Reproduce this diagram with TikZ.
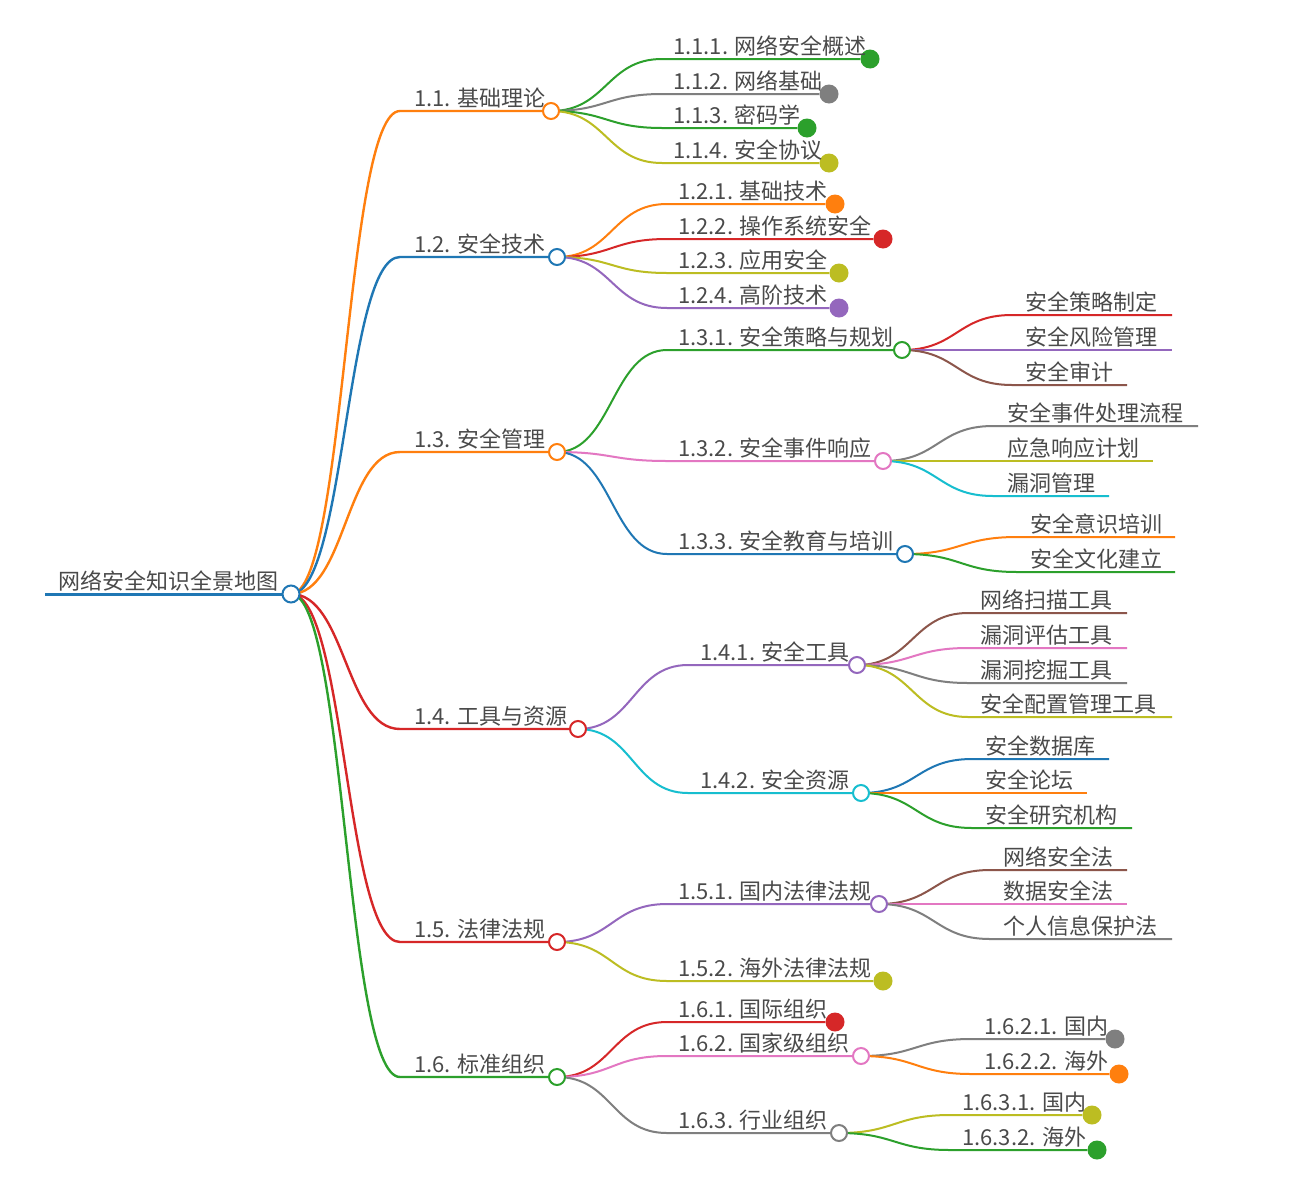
\documentclass[tikz,border=0pt]{standalone}
\usepackage{fontspec}
\setmainfont{Noto Sans CJK SC}
\usetikzlibrary{calc,backgrounds}
\definecolor{cblue}{HTML}{1F77B4}
\definecolor{corange}{HTML}{FF7F0E}
\definecolor{cgreen}{HTML}{2CA02C}
\definecolor{cred}{HTML}{D62728}
\definecolor{cpurple}{HTML}{9467BD}
\definecolor{cbrown}{HTML}{8C564B}
\definecolor{cpink}{HTML}{E377C2}
\definecolor{cgray}{HTML}{7F7F7F}
\definecolor{colive}{HTML}{BCBD22}
\definecolor{ccyan}{HTML}{17BECF}
\definecolor{textgray}{HTML}{4A4A4A}
\tikzset{
  edge/.style={line width=2pt},
  edgeone/.style={line width=2.4pt},
  hollow/.style={circle, draw, line width=2pt, fill=white, minimum size=16pt, inner sep=0pt},
  dot/.style={circle, fill, minimum size=19pt, inner sep=0pt},
  lbl/.style={anchor=base west, inner sep=0pt, text=textgray, font=\fontsize{22}{24}\selectfont},
}
\newcommand\mlink[5][edge]{\draw[#1,#2] let \p1=(#3.center), \p2=(#4) in (\p1) .. controls ({(\x1+\x2)/2},\y1) and ({(\x1+\x2)/2},\y2) .. (\p2) -- (#5);}
\begin{document}
\begin{tikzpicture}[x=1pt,y=-1pt]
\useasboundingbox (0,0) rectangle (1308,1186);
% root
\node[hollow, draw=cblue, minimum size=17pt] (root) at (291,594) {};
\coordinate (rootstart) at (45,594);
\node[lbl] (troot) at (58,589) {网络安全知识全景地图};
% level 1
\node[hollow, draw=corange] (n11) at (551,111) {};
\node[hollow, draw=cblue] (n12) at (557,257) {};
\node[hollow, draw=corange] (n13) at (557,452) {};
\node[hollow, draw=cred] (n14) at (578,729) {};
\node[hollow, draw=cred] (n15) at (557,942) {};
\node[hollow, draw=cgreen] (n16) at (557,1077) {};
\foreach \n/\y in {11/111,12/257,13/452,14/729,15/942,16/1077} \coordinate (h\n) at (400,\y);
\node[lbl] (t11) at (414,106) {1.1. 基础理论};
\node[lbl] (t12) at (414,252) {1.2. 安全技术};
\node[lbl] (t13) at (414,447) {1.3. 安全管理};
\node[lbl] (t14) at (414,724) {1.4. 工具与资源};
\node[lbl] (t15) at (414,937) {1.5. 法律法规};
\node[lbl] (t16) at (414,1072) {1.6. 标准组织};
% 1.1 children
\node[dot, fill=cgreen] (n111) at (870,59) {};
\node[dot, fill=cgray] (n112) at (829,94) {};
\node[dot, fill=cgreen] (n113) at (807,128) {};
\node[dot, fill=colive] (n114) at (829,163) {};
\foreach \n/\y in {111/59,112/94,113/128,114/163} \coordinate (h\n) at (662,\y);
\node[lbl] (t111) at (673,54) {1.1.1. 网络安全概述};
\node[lbl] (t112) at (673,89) {1.1.2. 网络基础};
\node[lbl] (t113) at (673,123) {1.1.3. 密码学};
\node[lbl] (t114) at (673,158) {1.1.4. 安全协议};
% 1.2 children
\node[dot, fill=corange] (n121) at (835,204) {};
\node[dot, fill=cred] (n122) at (883,239) {};
\node[dot, fill=colive] (n123) at (839,273) {};
\node[dot, fill=cpurple] (n124) at (839,308) {};
\foreach \n/\y in {121/204,122/239,123/273,124/308} \coordinate (h\n) at (667,\y);
\node[lbl] (t121) at (678,199) {1.2.1. 基础技术};
\node[lbl] (t122) at (678,234) {1.2.2. 操作系统安全};
\node[lbl] (t123) at (678,268) {1.2.3. 应用安全};
\node[lbl] (t124) at (678,303) {1.2.4. 高阶技术};
% 1.3 children
\node[hollow, draw=cgreen] (n131) at (902,350) {};
\node[hollow, draw=cpink] (n132) at (883,461) {};
\node[hollow, draw=cblue] (n133) at (905,554) {};
\foreach \n/\y in {131/350,132/461,133/554} \coordinate (h\n) at (667,\y);
\node[lbl] (t131) at (678,345) {1.3.1. 安全策略与规划};
\node[lbl] (t132) at (678,456) {1.3.2. 安全事件响应};
\node[lbl] (t133) at (678,549) {1.3.3. 安全教育与培训};
% 1.3.1 children
\coordinate (e1311) at (1172,315); \coordinate (h1311) at (1012,315);
\coordinate (e1312) at (1172,350); \coordinate (h1312) at (1012,350);
\coordinate (e1313) at (1127,385); \coordinate (h1313) at (1012,385);
\node[lbl] (t1311) at (1025,310) {安全策略制定};
\node[lbl] (t1312) at (1025,345) {安全风险管理};
\node[lbl] (t1313) at (1025,380) {安全审计};
% 1.3.2 children
\coordinate (e1321) at (1198,426); \coordinate (h1321) at (993,426);
\coordinate (e1322) at (1153,461); \coordinate (h1322) at (993,461);
\coordinate (e1323) at (1109,496); \coordinate (h1323) at (993,496);
\node[lbl] (t1321) at (1007,421) {安全事件处理流程};
\node[lbl] (t1322) at (1007,456) {应急响应计划};
\node[lbl] (t1323) at (1007,491) {漏洞管理};
% 1.3.3 children
\coordinate (e1331) at (1175,537); \coordinate (h1331) at (1017,537);
\coordinate (e1332) at (1175,572); \coordinate (h1332) at (1017,572);
\node[lbl] (t1331) at (1030,532) {安全意识培训};
\node[lbl] (t1332) at (1030,567) {安全文化建立};
% 1.4 children
\node[hollow, draw=cpurple] (n141) at (857,665) {};
\node[hollow, draw=ccyan] (n142) at (861,793) {};
\coordinate (h141) at (688,665); \coordinate (h142) at (688,793);
\node[lbl] (t141) at (700,660) {1.4.1. 安全工具};
\node[lbl] (t142) at (700,788) {1.4.2. 安全资源};
% 1.4.1 children
\coordinate (e1411) at (1127,613); \coordinate (h1411) at (968,613);
\coordinate (e1412) at (1127,648); \coordinate (h1412) at (968,648);
\coordinate (e1413) at (1127,683); \coordinate (h1413) at (968,683);
\coordinate (e1414) at (1172,717); \coordinate (h1414) at (968,717);
\node[lbl] (t1411) at (980,608) {网络扫描工具};
\node[lbl] (t1412) at (980,643) {漏洞评估工具};
\node[lbl] (t1413) at (980,678) {漏洞挖掘工具};
\node[lbl] (t1414) at (980,712) {安全配置管理工具};
% 1.4.2 children
\coordinate (e1421) at (1109,759); \coordinate (h1421) at (972,759);
\coordinate (e1422) at (1087,793); \coordinate (h1422) at (972,793);
\coordinate (e1423) at (1132,828); \coordinate (h1423) at (972,828);
\node[lbl] (t1421) at (985,754) {安全数据库};
\node[lbl] (t1422) at (985,788) {安全论坛};
\node[lbl] (t1423) at (985,823) {安全研究机构};
% 1.5 children
\node[hollow, draw=cpurple] (n151) at (879,904) {};
\node[dot, fill=colive] (n152) at (883,981) {};
\coordinate (h151) at (667,904); \coordinate (h152) at (667,981);
\node[lbl] (t151) at (678,899) {1.5.1. 国内法律法规};
\node[lbl] (t152) at (678,976) {1.5.2. 海外法律法规};
% 1.5.1 children
\coordinate (e1511) at (1127,870); \coordinate (h1511) at (990,870);
\coordinate (e1512) at (1127,904); \coordinate (h1512) at (990,904);
\coordinate (e1513) at (1172,939); \coordinate (h1513) at (990,939);
\node[lbl] (t1511) at (1003,865) {网络安全法};
\node[lbl] (t1512) at (1003,899) {数据安全法};
\node[lbl] (t1513) at (1003,934) {个人信息保护法};
% 1.6 children
\node[dot, fill=cred] (n161) at (835,1022) {};
\node[hollow, draw=cpink] (n162) at (861,1056) {};
\node[hollow, draw=cgray] (n163) at (839,1133) {};
\coordinate (h161) at (667,1022); \coordinate (h162) at (667,1056); \coordinate (h163) at (667,1133);
\node[lbl] (t161) at (678,1017) {1.6.1. 国际组织};
\node[lbl] (t162) at (678,1051) {1.6.2. 国家级组织};
\node[lbl] (t163) at (678,1128) {1.6.3. 行业组织};
% 1.6.2 children
\node[dot, fill=cgray] (n1621) at (1115,1039) {};
\node[dot, fill=corange] (n1622) at (1119,1074) {};
\coordinate (h1621) at (971,1039); \coordinate (h1622) at (971,1074);
\node[lbl] (t1621) at (984,1034) {1.6.2.1. 国内};
\node[lbl] (t1622) at (984,1069) {1.6.2.2. 海外};
% 1.6.3 children
\node[dot, fill=colive] (n1631) at (1092,1115) {};
\node[dot, fill=cgreen] (n1632) at (1097,1150) {};
\coordinate (h1631) at (950,1115); \coordinate (h1632) at (950,1150);
\node[lbl] (t1631) at (962,1110) {1.6.3.1. 国内};
\node[lbl] (t1632) at (962,1145) {1.6.3.2. 海外};

\begin{pgfonlayer}{background}
\fill[white] (0,0) rectangle (1308,1186);
\draw[cblue, line width=3pt] (rootstart) -- (root.center);
\mlink[edgeone]{corange}{root}{h11}{n11}
\mlink[edgeone]{cblue}{root}{h12}{n12}
\mlink[edgeone]{corange}{root}{h13}{n13}
\mlink[edgeone]{cred}{root}{h14}{n14}
\mlink[edgeone]{cred}{root}{h15}{n15}
\mlink[edgeone]{cgreen}{root}{h16}{n16}
\mlink{cgreen}{n11}{h111}{n111}
\mlink{cgray}{n11}{h112}{n112}
\mlink{cgreen}{n11}{h113}{n113}
\mlink{colive}{n11}{h114}{n114}
\mlink{corange}{n12}{h121}{n121}
\mlink{cred}{n12}{h122}{n122}
\mlink{colive}{n12}{h123}{n123}
\mlink{cpurple}{n12}{h124}{n124}
\mlink{cgreen}{n13}{h131}{n131}
\mlink{cpink}{n13}{h132}{n132}
\mlink{cblue}{n13}{h133}{n133}
\mlink{cred}{n131}{h1311}{e1311}
\mlink{cpurple}{n131}{h1312}{e1312}
\mlink{cbrown}{n131}{h1313}{e1313}
\mlink{cgray}{n132}{h1321}{e1321}
\mlink{colive}{n132}{h1322}{e1322}
\mlink{ccyan}{n132}{h1323}{e1323}
\mlink{corange}{n133}{h1331}{e1331}
\mlink{cgreen}{n133}{h1332}{e1332}
\mlink{cpurple}{n14}{h141}{n141}
\mlink{ccyan}{n14}{h142}{n142}
\mlink{cbrown}{n141}{h1411}{e1411}
\mlink{cpink}{n141}{h1412}{e1412}
\mlink{cgray}{n141}{h1413}{e1413}
\mlink{colive}{n141}{h1414}{e1414}
\mlink{cblue}{n142}{h1421}{e1421}
\mlink{corange}{n142}{h1422}{e1422}
\mlink{cgreen}{n142}{h1423}{e1423}
\mlink{cpurple}{n15}{h151}{n151}
\mlink{colive}{n15}{h152}{n152}
\mlink{cbrown}{n151}{h1511}{e1511}
\mlink{cpink}{n151}{h1512}{e1512}
\mlink{cgray}{n151}{h1513}{e1513}
\mlink{cred}{n16}{h161}{n161}
\mlink{cpink}{n16}{h162}{n162}
\mlink{cgray}{n16}{h163}{n163}
\mlink{cgray}{n162}{h1621}{n1621}
\mlink{corange}{n162}{h1622}{n1622}
\mlink{colive}{n163}{h1631}{n1631}
\mlink{cgreen}{n163}{h1632}{n1632}
\end{pgfonlayer}
\end{tikzpicture}
\end{document}
